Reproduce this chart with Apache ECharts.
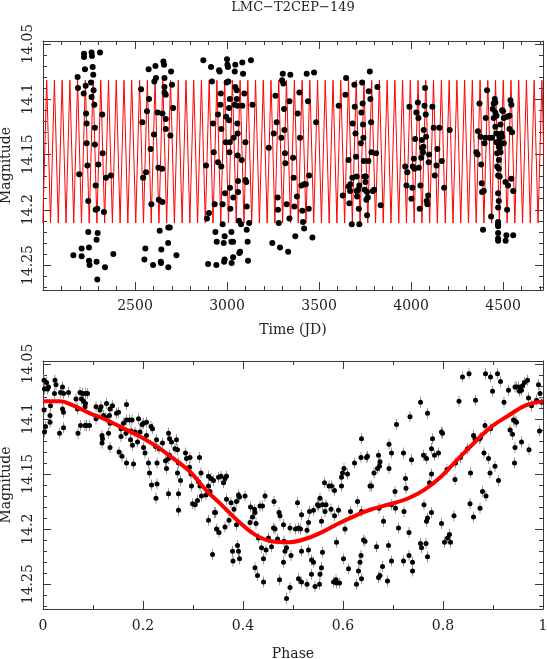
<!DOCTYPE html>
<html>
<head>
<meta charset="utf-8">
<title>LMC-T2CEP-149</title>
<script src="https://cdn.jsdelivr.net/npm/echarts@6/dist/echarts.min.js"></script>
<style>
  html, body { margin: 0; padding: 0; background: #fff; }
  #chart { width: 547px; height: 659px; }
</style>
</head>
<body>
<div id="chart"></div>
<script>
// observations vs time, one array per observing season: [JD, mag]
const season1 = [[2223,14.059],[2223,14.062],[2264,14.058],[2266,14.061],[2310,14.058],[2228,14.073],[2270,14.071],[2273,14.078],[2188,14.080],[2261,14.085],[2190,14.090],[2232,14.088],[2221,14.095],[2275,14.092],[2264,14.098],[2279,14.105],[2322,14.114],[2234,14.113],[2237,14.122],[2282,14.126],[2237,14.140],[2282,14.141],[2324,14.149],[2241,14.160],[2301,14.159],[2197,14.168],[2342,14.171],[2369,14.169],[2286,14.178],[2246,14.192],[2295,14.199],[2286,14.200],[2331,14.202],[2246,14.220],[2297,14.221],[2291,14.227],[2210,14.235],[2250,14.234],[2165,14.241],[2210,14.242],[2382,14.240],[2250,14.246],[2291,14.247],[2253,14.250],[2337,14.252],[2295,14.263]];
const season2 = [[2611,14.070],[2654,14.066],[2658,14.069],[2574,14.073],[2696,14.075],[2660,14.081],[2614,14.081],[2605,14.084],[2533,14.091],[2701,14.087],[2660,14.089],[2576,14.100],[2660,14.094],[2667,14.096],[2565,14.111],[2623,14.112],[2649,14.113],[2707,14.108],[2667,14.118],[2540,14.121],[2667,14.127],[2603,14.132],[2692,14.133],[2585,14.145],[2627,14.162],[2647,14.163],[2560,14.166],[2544,14.171],[2589,14.195],[2629,14.191],[2649,14.193],[2681,14.216],[2689,14.216],[2634,14.219],[2680,14.230],[2556,14.235],[2643,14.236],[2551,14.245],[2640,14.247],[2641,14.248],[2598,14.250],[2681,14.252],[2725,14.241]];
const season3 = [[2871,14.065],[2913,14.071],[2957,14.074],[2960,14.075],[3000,14.064],[3002,14.069],[3005,14.071],[3045,14.069],[3083,14.067],[3130,14.065],[3042,14.075],[3087,14.077],[2918,14.084],[2998,14.085],[3007,14.084],[3045,14.089],[3053,14.092],[2966,14.095],[3094,14.095],[3015,14.100],[3053,14.100],[2964,14.105],[3042,14.105],[3056,14.106],[3083,14.106],[3138,14.105],[3011,14.108],[2951,14.114],[2995,14.116],[3011,14.119],[2924,14.122],[3056,14.122],[2969,14.127],[3058,14.131],[3036,14.135],[2993,14.139],[3015,14.139],[3100,14.139],[2928,14.148],[3013,14.148],[2951,14.157],[3058,14.151],[2969,14.161],[3080,14.155],[2886,14.160],[3060,14.174],[3100,14.173],[3105,14.175],[3016,14.180],[3060,14.184],[2989,14.185],[3034,14.189],[2933,14.195],[2976,14.195],[3107,14.197],[3018,14.199],[2902,14.203],[2891,14.208],[2976,14.213],[3065,14.210],[3076,14.213],[3120,14.212],[3107,14.218],[2937,14.220],[3024,14.220],[2987,14.224],[2944,14.229],[2982,14.230],[3024,14.229],[3033,14.229],[3112,14.229],[3071,14.238],[3067,14.239],[3033,14.243],[2987,14.245],[2984,14.247],[3025,14.248],[3114,14.246],[2897,14.249],[2942,14.250]];
const season4 = [[3303,14.077],[3344,14.078],[3433,14.077],[3473,14.076],[3299,14.083],[3306,14.086],[3263,14.097],[3339,14.102],[3310,14.109],[3440,14.102],[3384,14.113],[3393,14.094],[3270,14.121],[3312,14.128],[3484,14.121],[3254,14.131],[3295,14.135],[3397,14.135],[3227,14.144],[3315,14.149],[3317,14.158],[3359,14.153],[3362,14.171],[3446,14.169],[3419,14.177],[3428,14.177],[3404,14.178],[3275,14.189],[3380,14.188],[3324,14.195],[3366,14.197],[3277,14.200],[3409,14.201],[3444,14.199],[3281,14.212],[3339,14.208],[3413,14.211],[3419,14.217],[3371,14.224],[3464,14.225],[3246,14.230],[3288,14.234],[3332,14.238]];
const season5 = [[3776,14.075],[3647,14.081],[3692,14.087],[3734,14.085],[3643,14.096],[3817,14.089],[3770,14.093],[3779,14.100],[3737,14.104],[3607,14.106],[3694,14.107],[3730,14.112],[3683,14.122],[3739,14.123],[3783,14.121],[3698,14.131],[3741,14.135],[3727,14.140],[3701,14.152],[3660,14.155],[3743,14.156],[3768,14.156],[3785,14.148],[3810,14.149],[3681,14.171],[3705,14.170],[3747,14.170],[3754,14.170],[3661,14.179],[3670,14.177],[3752,14.175],[3719,14.178],[3705,14.183],[3712,14.182],[3748,14.182],[3761,14.184],[3792,14.183],[3799,14.182],[3669,14.183],[3629,14.187],[3707,14.188],[3765,14.189],[3757,14.191],[3665,14.194],[3835,14.196],[3716,14.199],[3761,14.205],[3678,14.213],[3719,14.213]];
const season6 = [[4076,14.090],[3991,14.107],[4037,14.103],[4073,14.106],[4116,14.107],[4029,14.112],[4080,14.114],[4040,14.117],[4069,14.128],[4123,14.126],[4154,14.126],[4022,14.136],[4082,14.134],[4058,14.137],[4067,14.143],[4060,14.144],[4065,14.148],[4143,14.145],[4098,14.150],[4055,14.153],[4015,14.154],[4096,14.157],[4138,14.160],[4167,14.156],[3968,14.161],[4009,14.161],[4018,14.163],[4042,14.162],[3980,14.166],[4129,14.169],[3975,14.178],[4051,14.178],[4007,14.180],[4180,14.180],[4093,14.187],[4002,14.190],[4085,14.192],[4089,14.195],[4047,14.199],[4210,14.128]];
const season7 = [[4413,14.092],[4372,14.104],[4455,14.100],[4449,14.104],[4458,14.103],[4540,14.101],[4545,14.105],[4495,14.110],[4500,14.111],[4444,14.109],[4458,14.112],[4464,14.115],[4406,14.117],[4449,14.117],[4504,14.117],[4522,14.116],[4535,14.115],[4486,14.123],[4458,14.125],[4364,14.129],[4535,14.127],[4549,14.130],[4464,14.131],[4491,14.131],[4377,14.134],[4404,14.135],[4426,14.135],[4440,14.135],[4482,14.135],[4495,14.134],[4464,14.139],[4477,14.139],[4504,14.140],[4399,14.140],[4477,14.143],[4482,14.144],[4355,14.148],[4362,14.150],[4468,14.149],[4486,14.148],[4477,14.155],[4381,14.159],[4468,14.161],[4477,14.163],[4473,14.169],[4482,14.170],[4545,14.172],[4513,14.175],[4527,14.178],[4384,14.176],[4395,14.183],[4386,14.184],[4555,14.183],[4473,14.185],[4477,14.192],[4473,14.198],[4522,14.200],[4435,14.206],[4473,14.211],[4473,14.213],[4473,14.215],[4391,14.218],[4473,14.221],[4473,14.226],[4473,14.228],[4518,14.223],[4555,14.223],[4514,14.228]];

// model drawn over time: times of its faint minima and bright maxima
const fitMinJD = [1999,2041,2083,2125,2167,2209,2251,2293,2335,2377,2419,2461,2504,2546,2588,2630,2672,2714,2756,2798,2840,2882,2924,2966,3008,3050,3092,3134,3176,3218,3260,3302,3345,3387,3429,3471,3513,3555,3597,3639,3681,3723,3765,3807,3849,3891,3933,3975,4017,4059,4101,4143,4186,4228,4270,4312,4354,4396,4438,4480,4522,4564,4606,4648,4690,4732];
const fitMaxJD = [2020,2062,2104,2146,2188,2230,2272,2314,2356,2398,2440,2482,2525,2567,2609,2651,2693,2735,2777,2819,2861,2903,2945,2987,3029,3071,3113,3155,3197,3239,3281,3323,3366,3408,3450,3492,3534,3576,3618,3660,3702,3744,3786,3828,3870,3912,3954,3996,4038,4080,4122,4165,4207,4249,4291,4333,4375,4417,4459,4501,4543,4585,4627,4669,4711];
const fitFaint = 14.212;
const fitBright = 14.083;

// phased light curve: [phase, mag]
const phased = [[0.002,14.065],[0.007,14.067],[0.011,14.071],[0.003,14.073],[0.009,14.073],[0.024,14.065],[0.026,14.069],[0.023,14.077],[0.039,14.071],[0.035,14.076],[0.041,14.077],[0.051,14.076],[0.066,14.082],[0.074,14.076],[0.079,14.077],[0.085,14.077],[0.089,14.077],[0.077,14.082],[0.081,14.084],[0.085,14.086],[0.084,14.089],[0.069,14.091],[0.002,14.092],[0.015,14.088],[0.039,14.091],[0.041,14.094],[0.014,14.097],[0.014,14.103],[0.005,14.107],[0.003,14.112],[0.033,14.113],[0.041,14.108],[0.070,14.113],[0.075,14.106],[0.084,14.106],[0.087,14.106],[0.093,14.106],[0.106,14.089],[0.116,14.089],[0.114,14.092],[0.127,14.086],[0.134,14.091],[0.139,14.088],[0.147,14.095],[0.151,14.094],[0.167,14.087],[0.106,14.100],[0.121,14.097],[0.126,14.099],[0.133,14.097],[0.134,14.104],[0.131,14.113],[0.118,14.115],[0.119,14.118],[0.118,14.122],[0.134,14.126],[0.156,14.109],[0.161,14.104],[0.167,14.101],[0.173,14.101],[0.178,14.101],[0.176,14.111],[0.184,14.112],[0.156,14.116],[0.166,14.113],[0.175,14.119],[0.179,14.124],[0.189,14.121],[0.194,14.112],[0.198,14.105],[0.191,14.100],[0.201,14.104],[0.207,14.103],[0.216,14.107],[0.219,14.109],[0.207,14.115],[0.201,14.126],[0.204,14.131],[0.152,14.130],[0.158,14.134],[0.167,14.140],[0.181,14.141],[0.227,14.119],[0.225,14.125],[0.232,14.127],[0.239,14.122],[0.251,14.113],[0.253,14.118],[0.264,14.127],[0.269,14.128],[0.211,14.140],[0.213,14.149],[0.228,14.140],[0.217,14.160],[0.228,14.159],[0.226,14.172],[0.245,14.138],[0.251,14.136],[0.253,14.133],[0.247,14.145],[0.257,14.121],[0.267,14.119],[0.271,14.140],[0.269,14.149],[0.275,14.156],[0.285,14.131],[0.287,14.136],[0.294,14.135],[0.293,14.144],[0.296,14.150],[0.297,14.161],[0.299,14.177],[0.304,14.178],[0.309,14.174],[0.313,14.135],[0.316,14.149],[0.311,14.157],[0.314,14.161],[0.317,14.170],[0.326,14.169],[0.331,14.161],[0.331,14.152],[0.331,14.192],[0.251,14.168],[0.271,14.168],[0.271,14.183],
  [0.336,14.154],[0.341,14.156],[0.351,14.153],[0.356,14.152],[0.364,14.154],[0.367,14.152],[0.361,14.158],[0.334,14.166],[0.343,14.185],[0.345,14.185],[0.347,14.200],[0.352,14.203],[0.364,14.198],[0.372,14.192],[0.367,14.173],[0.376,14.176],[0.387,14.175],[0.393,14.171],[0.391,14.169],[0.404,14.170],[0.387,14.196],[0.382,14.182],[0.339,14.223],[0.379,14.220],[0.389,14.215],[0.391,14.220],[0.380,14.229],[0.393,14.227],[0.415,14.180],[0.414,14.194],[0.426,14.195],[0.419,14.189],[0.424,14.185],[0.423,14.182],[0.434,14.179],[0.439,14.179],[0.444,14.170],[0.431,14.208],[0.437,14.217],[0.441,14.227],[0.424,14.235],[0.429,14.242],[0.441,14.248],[0.446,14.219],[0.451,14.208],[0.457,14.216],[0.462,14.175],[0.461,14.199],[0.464,14.200],[0.472,14.185],[0.474,14.188],[0.469,14.209],[0.481,14.196],[0.482,14.211],[0.487,14.217],[0.484,14.220],[0.481,14.230],[0.494,14.199],[0.496,14.224],[0.473,14.246],[0.494,14.253],[0.487,14.263],[0.505,14.200],[0.509,14.176],[0.511,14.199],[0.517,14.187],[0.515,14.200],[0.528,14.201],[0.531,14.194],[0.533,14.184],[0.541,14.183],[0.549,14.178],[0.554,14.172],[0.551,14.179],[0.559,14.178],[0.566,14.178],[0.557,14.193],[0.564,14.184],[0.517,14.220],[0.531,14.219],[0.511,14.245],[0.517,14.248],[0.528,14.250],[0.537,14.228],[0.541,14.230],[0.537,14.241],[0.544,14.252],[0.553,14.250],[0.554,14.241],[0.557,14.235],[0.559,14.221],[0.576,14.182],[0.583,14.188],[0.587,14.212],[0.591,14.183],[0.604,14.200],[0.615,14.184],[0.601,14.227],[0.611,14.236],[0.581,14.248],[0.586,14.246],[0.587,14.249],[0.593,14.249],[0.629,14.175],[0.641,14.210],[0.637,14.184],[0.563,14.158],[0.572,14.161],[0.577,14.161],[0.583,14.165],[0.597,14.153],[0.599,14.149],[0.602,14.145],[0.609,14.150],[0.597,14.161],[0.623,14.140],[0.636,14.135],[0.647,14.135],[0.649,14.134],[0.637,14.118],[0.654,14.161],[0.657,14.161],[0.662,14.149],[0.669,14.145],[0.671,14.133],[0.673,14.143],[0.636,14.224],[0.631,14.238],[0.634,14.230],[0.637,14.245],[0.627,14.250],[0.671,14.244],[0.644,14.211],
  [0.692,14.123],[0.697,14.131],[0.692,14.145],[0.672,14.181],[0.681,14.193],[0.705,14.181],[0.704,14.166],[0.697,14.178],[0.711,14.199],[0.722,14.184],[0.725,14.154],[0.726,14.163],[0.721,14.131],[0.737,14.137],[0.732,14.203],[0.734,14.098],[0.707,14.105],[0.755,14.085],[0.769,14.095],[0.761,14.133],[0.767,14.136],[0.777,14.127],[0.779,14.118],[0.777,14.150],[0.773,14.158],[0.783,14.133],[0.791,14.131],[0.797,14.112],[0.799,14.113],[0.762,14.178],[0.769,14.190],[0.767,14.193],[0.777,14.185],[0.797,14.195],[0.755,14.213],[0.757,14.217],[0.766,14.213],[0.769,14.225],[0.803,14.212],[0.809,14.208],[0.813,14.205],[0.815,14.212],[0.822,14.188],[0.808,14.146],[0.825,14.140],[0.824,14.155],[0.835,14.135],[0.849,14.127],[0.861,14.115],[0.864,14.118],[0.873,14.118],[0.875,14.117],[0.855,14.149],[0.854,14.177],[0.861,14.189],[0.874,14.181],[0.879,14.166],[0.886,14.170],[0.882,14.131],[0.884,14.106],[0.891,14.136],[0.894,14.149],[0.895,14.109],[0.904,14.143],[0.911,14.156],[0.832,14.084],[0.839,14.062],[0.852,14.059],[0.865,14.083],[0.885,14.059],[0.895,14.062],[0.899,14.075],[0.909,14.059],[0.915,14.066],[0.922,14.085],[0.931,14.074],[0.944,14.071],[0.947,14.071],[0.951,14.071],[0.953,14.075],[0.959,14.070],[0.963,14.067],[0.969,14.065],[0.971,14.081],[0.957,14.074],[0.941,14.101],[0.944,14.102],[0.947,14.103],[0.934,14.110],[0.939,14.114],[0.957,14.121],[0.944,14.126],[0.972,14.128],[0.943,14.140],[0.993,14.111],[0.997,14.085],[0.991,14.069],[0.994,14.077],[0.977,14.088],[0.987,14.083],[0.674,14.139],[0.674,14.242],[0.679,14.234],[0.667,14.216],[0.691,14.215],[0.689,14.247],[0.697,14.229],[0.721,14.229],[0.732,14.224],[0.739,14.230],[0.739,14.238]];
const magErr = 0.005;

// fitted light curve in phase
const fitPhase = [0, 0.034, 0.061, 0.094, 0.127, 0.167, 0.194, 0.227, 0.261, 0.294, 0.327, 0.357, 0.391, 0.424, 0.457, 0.491, 0.524, 0.557, 0.591, 0.624, 0.657, 0.697, 0.731, 0.764, 0.797, 0.831, 0.864, 0.897, 0.931, 0.964, 1.0];
const fitMag = [14.084, 14.084, 14.088, 14.095, 14.101, 14.110, 14.116, 14.125, 14.136, 14.148, 14.165, 14.178, 14.193, 14.205, 14.211, 14.212, 14.209, 14.203, 14.195, 14.188, 14.182, 14.177, 14.172, 14.164, 14.152, 14.136, 14.121, 14.107, 14.097, 14.088, 14.084];

const jdRange = [2000, 4717];
const phaseRange = [0, 1];
const magRange = [14.0475, 14.2725];

const FONT = 'DejaVu Serif';
const INK = '#3a3a3a';
const TEXT = '#222';

const observed = [].concat(season1, season2, season3, season4, season5, season6, season7);
const zigzag = fitMinJD.map(t => [t, fitFaint])
  .concat(fitMaxJD.map(t => [t, fitBright]))
  .sort((a, b) => a[0] - b[0]);
const fitCurve = fitPhase.map((p, i) => [p, fitMag[i]]);

const fmt = v => String(+v.toFixed(4));

const makeAxis = (kind, gridIndex, position, range, minorSplit, labelOpts, name, nameGap) => {
  const axis = {
    type: 'value',
    gridIndex,
    position,
    min: range[0],
    max: range[1],
    splitNumber: 5,
    axisLine: { show: true, onZero: false, lineStyle: { color: INK, width: 1 } },
    axisTick: { show: true, inside: true, length: 8, lineStyle: { color: INK, width: 1 } },
    minorTick: { show: true, splitNumber: minorSplit, length: 4, lineStyle: { color: INK, width: 1 } },
    splitLine: { show: false },
    minorSplitLine: { show: false },
    axisLabel: labelOpts ? Object.assign({
      color: TEXT, fontFamily: FONT, fontSize: 14, formatter: fmt
    }, labelOpts) : { show: false }
  };
  if (kind === 'y') axis.inverse = true;
  if (name) {
    axis.name = name;
    axis.nameLocation = 'middle';
    axis.nameGap = nameGap;
    axis.nameTextStyle = { color: TEXT, fontFamily: FONT, fontSize: 14 };
    if (kind === 'y') axis.nameRotate = 90;
  }
  return axis;
};

const yLabels = { rotate: 90, margin: 8, showMinLabel: false, showMaxLabel: false };

const chart = echarts.init(document.getElementById('chart'));

chart.setOption({
  animation: false,
  backgroundColor: '#fff',
  title: {
    text: 'LMC\u2212T2CEP\u2212149',
    left: 293,
    top: 1,
    padding: 0,
    textAlign: 'center',
    textStyle: { fontFamily: FONT, fontSize: 13, fontWeight: 'normal', color: TEXT }
  },
  grid: [
    { left: 43, right: 4, top: 41, height: 249, outerBoundsMode: 'none', containLabel: false },
    { left: 43, right: 4, top: 361, height: 248, outerBoundsMode: 'none', containLabel: false }
  ],
  xAxis: [
    makeAxis('x', 0, 'bottom', jdRange, 5, { margin: 9, showMinLabel: false, showMaxLabel: false }, 'Time (JD)', 33),
    makeAxis('x', 0, 'top', jdRange, 5, null),
    makeAxis('x', 1, 'bottom', phaseRange, 2, { margin: 10 }, 'Phase', 38),
    makeAxis('x', 1, 'top', phaseRange, 2, null)
  ],
  yAxis: [
    makeAxis('y', 0, 'left', magRange, 5, yLabels, 'Magnitude', 27),
    makeAxis('y', 0, 'right', magRange, 5, null),
    makeAxis('y', 1, 'left', magRange, 5, yLabels, 'Magnitude', 27),
    makeAxis('y', 1, 'right', magRange, 5, null)
  ],
  series: [
    {
      type: 'line',
      xAxisIndex: 0,
      yAxisIndex: 0,
      data: zigzag,
      showSymbol: false,
      clip: true,
      lineStyle: { color: '#ff0000', width: 1 },
      z: 2
    },
    {
      type: 'scatter',
      xAxisIndex: 0,
      yAxisIndex: 0,
      data: observed,
      symbolSize: 6,
      itemStyle: { color: '#000', opacity: 1 },
      z: 3
    },
    {
      type: 'custom',
      xAxisIndex: 2,
      yAxisIndex: 2,
      data: phased,
      encode: { x: 0, y: 1 },
      renderItem: (params, api) => {
        const x = api.value(0);
        const y = api.value(1);
        const top = api.coord([x, y - magErr]);
        const bottom = api.coord([x, y + magErr]);
        return {
          type: 'line',
          shape: { x1: top[0], y1: top[1], x2: bottom[0], y2: bottom[1] },
          style: { stroke: '#999', lineWidth: 1 }
        };
      },
      z: 2
    },
    {
      type: 'scatter',
      xAxisIndex: 2,
      yAxisIndex: 2,
      data: phased,
      symbolSize: 5,
      itemStyle: { color: '#000', opacity: 1 },
      z: 3
    },
    {
      type: 'line',
      xAxisIndex: 2,
      yAxisIndex: 2,
      data: fitCurve,
      smooth: 0.4,
      showSymbol: false,
      lineStyle: { color: '#ff0000', width: 4 },
      z: 4
    }
  ]
});
</script>
</body>
</html>
